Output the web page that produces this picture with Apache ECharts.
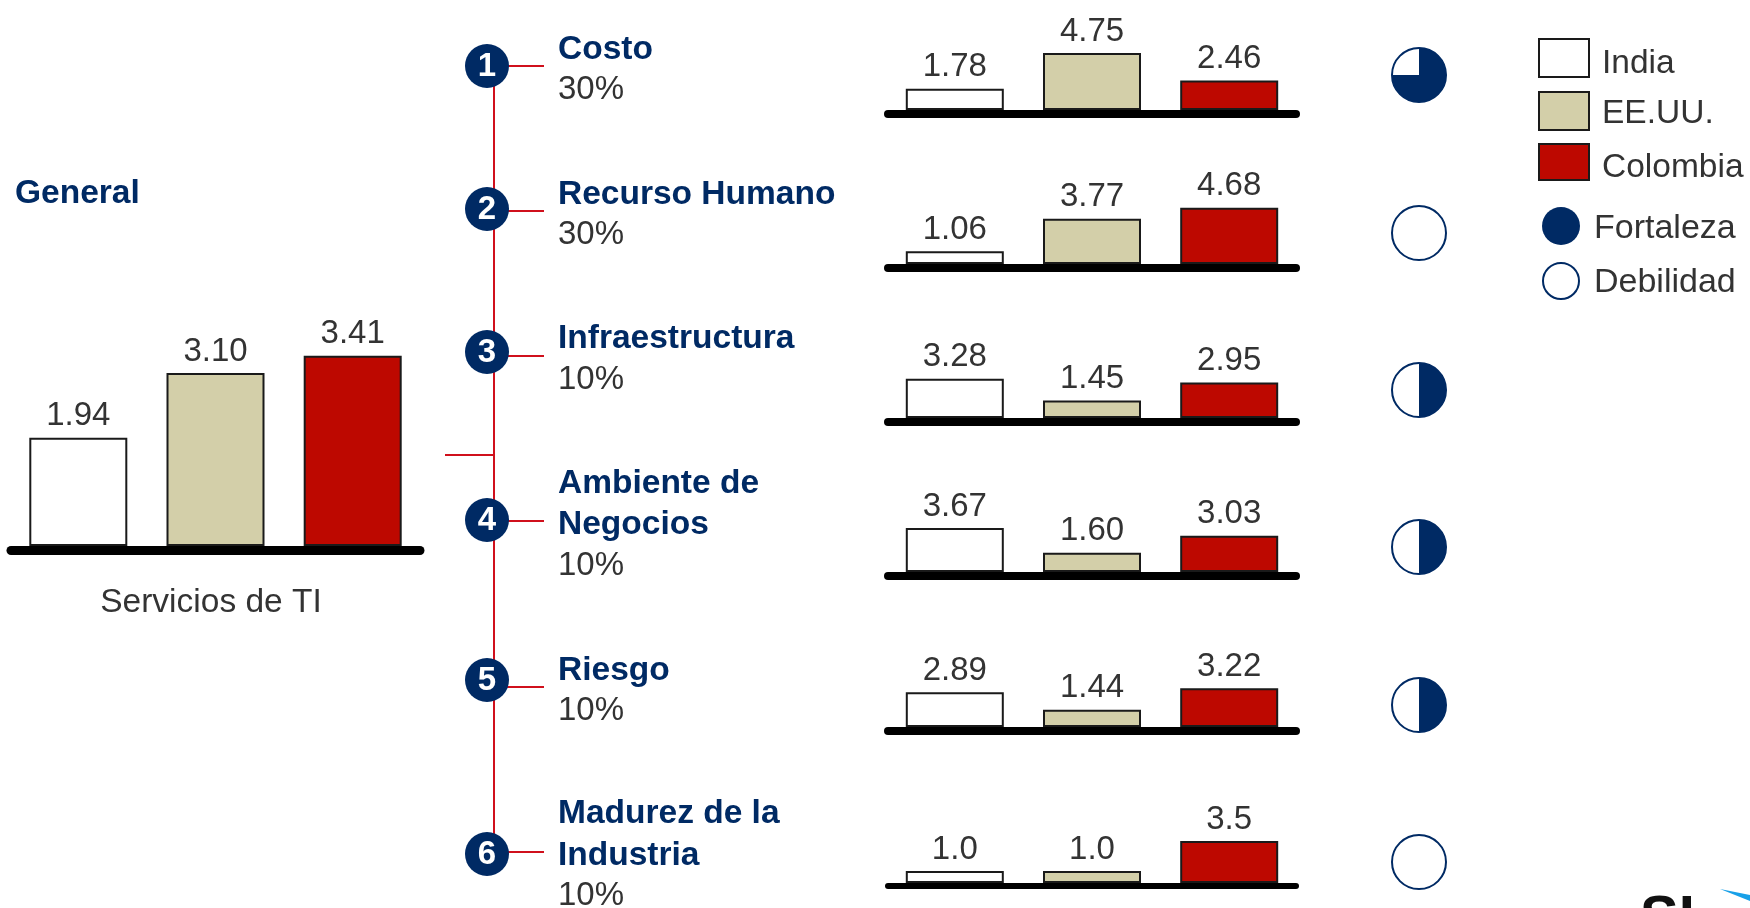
<!DOCTYPE html>
<html>
<head>
<meta charset="utf-8">
<style>html,body{margin:0;padding:0;background:#fff}#c{width:1750px;height:908px}</style>
<script src="https://cdn.jsdelivr.net/npm/echarts@6/dist/echarts.min.js"></script>
</head>
<body>
<div id="c"></div>
<script>
// ---- data ----
const countries = ["India", "EE.UU.", "Colombia"];
const generalLabel = "Servicios de TI";
const generalIndia = [1.94];
const generalEEUU = [3.10];
const generalColombia = [3.41];
const factors = [["Costo"], ["Recurso Humano"], ["Infraestructura"], ["Ambiente de", "Negocios"], ["Riesgo"], ["Madurez de la", "Industria"]];
const weights = ["30%", "30%", "10%", "10%", "10%", "10%"];
const india = [1.78, 1.06, 3.28, 3.67, 2.89, 1.0];
const eeuu = [4.75, 3.77, 1.45, 1.60, 1.44, 1.0];
const colombia = [2.46, 4.68, 2.95, 3.03, 3.22, 3.5];
const decimals = [2, 2, 2, 2, 2, 1];
const strength = [75, 0, 50, 50, 50, 0]; // share of each ball filled, percent

// ---- styling and layout ----
const NAVY = "#002a64", RED = "#d0101c", TEXT = "#333333", FONT = "'Liberation Sans', Arial, sans-serif";
const colors = ["#ffffff", "#d3cfa9", "#bd0800"];
const rowBase = [110, 264, 418, 572, 727, 883];
const axisW = [8, 8, 8, 8, 8, 6];
const ballY = [75, 233, 390, 547, 705, 862];
const numY = [66, 209, 352, 520, 680, 854];
const stubY = [66, 211, 356, 521, 687, 852];
const titleY = [[50], [195], [339], [484, 525], [671], [814, 856]];
const pctY = [90, 235, 380, 566, 711, 896];
const legendTop = [38, 91, 143];
const legendHeight = [38, 38, 36];
const legendTextPad = [12, 6, 12];

const grids = [], xAxes = [], yAxes = [], series = [];
function addChart(left, width, base, pxPerUnit, maxV, axisWidth, cat, vals, dec, dist) {
  const i = grids.length;
  grids.push({left, width, top: base - pxPerUnit * maxV, height: pxPerUnit * maxV});
  xAxes.push({gridIndex: i, type: "category", data: [cat], offset: axisWidth / 2,
    axisLine: {show: true, onZero: false, lineStyle: {color: "#000", width: axisWidth, cap: "round"}},
    axisTick: {show: false}, axisLabel: {show: false}});
  yAxes.push({gridIndex: i, type: "value", min: 0, max: maxV, show: false, splitLine: {show: false}});
  countries.forEach((name, k) => series.push({
    name, type: "bar", xAxisIndex: i, yAxisIndex: i, data: [vals[k]],
    barWidth: 98, barGap: "40%",
    itemStyle: {color: colors[k], borderColor: "#1a1a1a", borderWidth: 2},
    label: {show: true, position: "top", distance: dist, color: TEXT, fontFamily: FONT, fontSize: 33,
      formatter: p => p.value.toFixed(dec)}
  }));
}
addChart(11, 409, 546, 55.8, 4, 9, generalLabel, [generalIndia[0], generalEEUU[0], generalColombia[0]], 2, 5);
factors.forEach((f, r) => addChart(888, 408, rowBase[r], 12, 6, axisW[r], f.join(" "), [india[r], eeuu[r], colombia[r]], decimals[r], 5));

// harvey balls
strength.forEach((s, r) => series.push({
  type: "pie", center: [1419, ballY[r]], radius: [0, 27], startAngle: 90, clockwise: true, silent: true,
  label: {show: false}, labelLine: {show: false},
  data: [{value: s, itemStyle: {color: NAVY}}, {value: 100 - s, itemStyle: {color: "#ffffff"}}]
}));

// ---- annotation layer ----
const g = [];
const txt = (text, x, y, size, fill, weight, align) => g.push({type: "text", x, y, z: 20, silent: true,
  style: {text, fill, font: (weight || "normal") + " " + size + "px " + FONT, textAlign: align || "left", textVerticalAlign: "middle"}});
const line = (x1, y1, x2, y2) => g.push({type: "line", z: 5, silent: true, shape: {x1, y1, x2, y2}, style: {stroke: RED, lineWidth: 2}});

txt("General", 15, 194, 33.5, NAVY, "bold");
txt(generalLabel, 211, 603, 33.5, TEXT, "normal", "center");
line(494, numY[0], 494, numY[5]);
line(445, 455, 494, 455);
factors.forEach((f, r) => {
  line(494, stubY[r], 544, stubY[r]);
  g.push({type: "circle", z: 10, silent: true, shape: {cx: 487, cy: numY[r], r: 22}, style: {fill: NAVY}});
  txt(String(r + 1), 487, numY[r] + 1, 33, "#ffffff", "bold", "center");
  f.forEach((t, k) => txt(t, 558, titleY[r][k], 33.5, NAVY, "bold"));
  txt(weights[r], 558, pctY[r], 33, TEXT);
  g.push({type: "circle", z: 15, silent: true, shape: {cx: 1419, cy: ballY[r], r: 27}, style: {fill: "none", stroke: NAVY, lineWidth: 2}});
});
g.push({type: "circle", z: 10, silent: true, shape: {cx: 1561, cy: 226, r: 19}, style: {fill: NAVY}});
g.push({type: "circle", z: 10, silent: true, shape: {cx: 1561, cy: 281, r: 18}, style: {fill: "#fff", stroke: NAVY, lineWidth: 2}});
txt("Fortaleza", 1594, 229, 34, TEXT);
txt("Debilidad", 1594, 283, 34, TEXT);
// cut-off logo in the corner
g.push({type: "text", x: 1640, y: 891, z: 5, silent: true, style: {text: "SI", fill: "#111", font: "bold 58px " + FONT, textVerticalAlign: "top"}});
g.push({type: "polygon", z: 5, silent: true, shape: {points: [[1720, 889], [1750, 895], [1750, 901]]}, style: {fill: "#18a0e8"}});

const chart = echarts.init(document.getElementById("c"), null, {renderer: "canvas"});
chart.setOption({
  animation: false,
  backgroundColor: "#ffffff",
  grid: grids, xAxis: xAxes, yAxis: yAxes, series, graphic: g,
  legend: countries.map((name, k) => ({data: [name], left: 1538, top: legendTop[k], itemWidth: 50, itemHeight: legendHeight[k],
    icon: "rect", selectedMode: false, padding: 0, itemGap: 0,
    formatter: "{a|{name}}",
    textStyle: {color: TEXT, fontFamily: FONT, fontSize: 33.5,
      rich: {a: {color: TEXT, fontFamily: FONT, fontSize: 33.5, padding: [legendTextPad[k], 0, 0, 8]}}}}))
});
</script>
</body>
</html>
